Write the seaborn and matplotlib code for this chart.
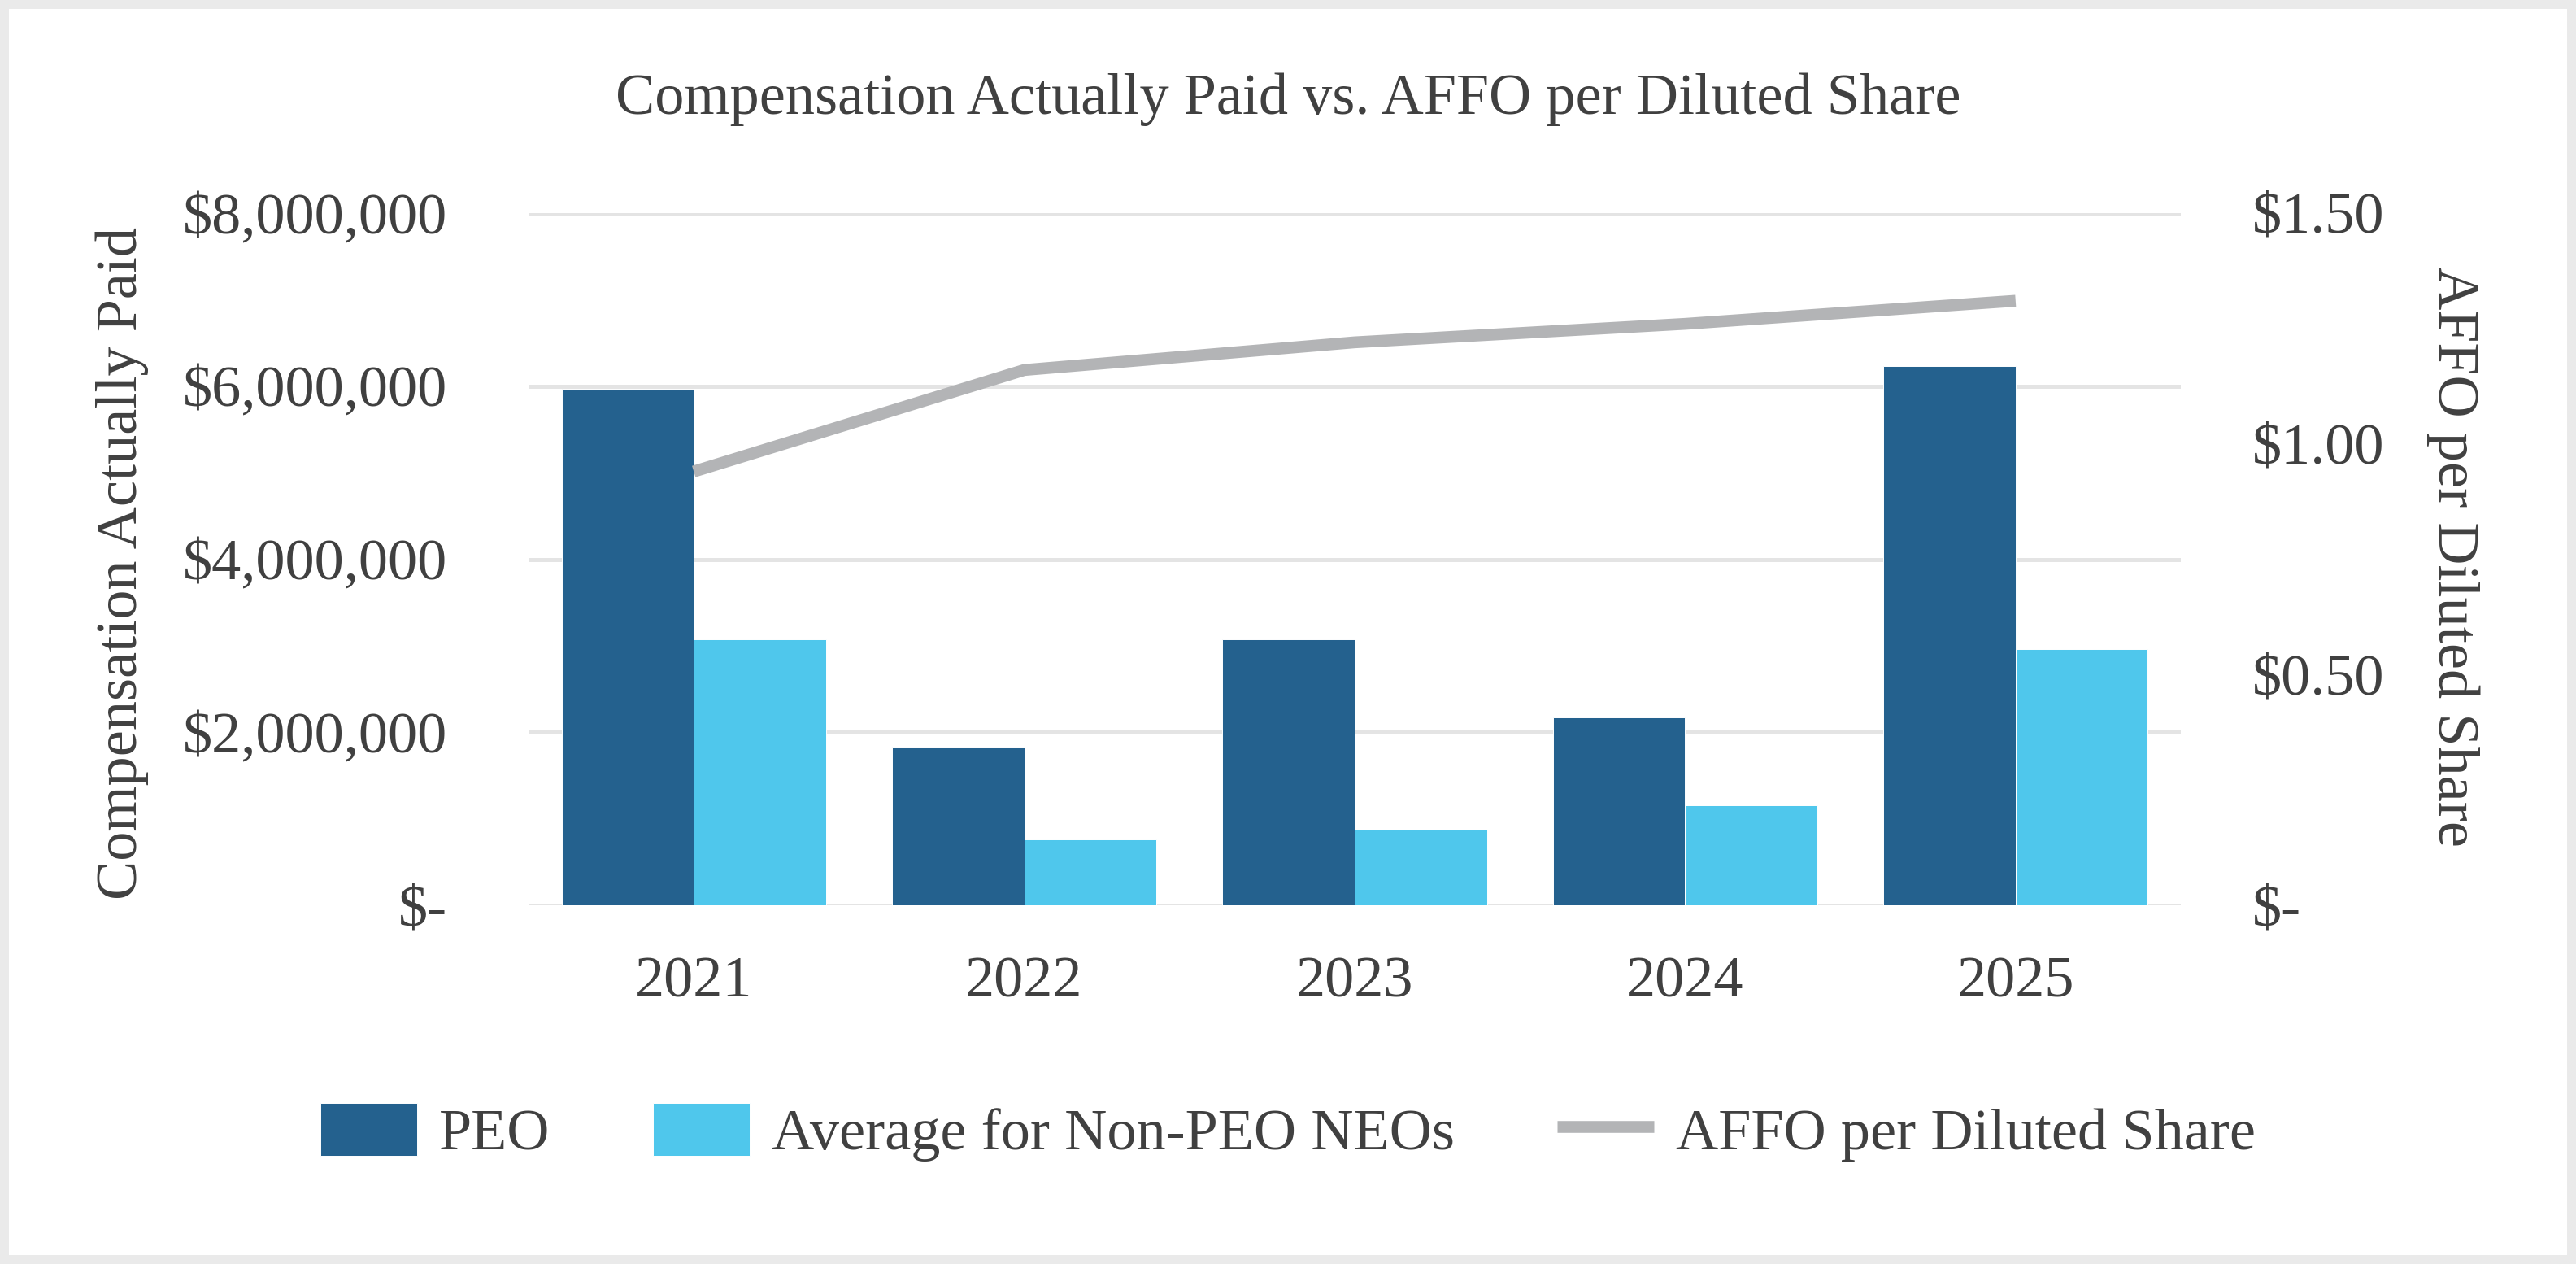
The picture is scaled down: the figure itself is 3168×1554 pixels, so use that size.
import numpy as np
import pandas as pd
import matplotlib
matplotlib.use('Agg')
import matplotlib.pyplot as plt
import seaborn as sns
from matplotlib.patches import Rectangle

# ---------------- data ----------------
years = ['2021', '2022', '2023', '2024', '2025']
peo = [5970000, 1830000, 3070000, 2170000, 6230000]
non_peo = [3070000, 760000, 870000, 1160000, 2960000]
affo = [0.94, 1.16, 1.22, 1.26, 1.31]
series_names = ['PEO', 'Average for Non-PEO NEOs']
line_name = 'AFFO per Diluted Share'
left_ticks = [0, 2000000, 4000000, 6000000, 8000000]
left_tick_labels = ['$-', '$2,000,000', '$4,000,000', '$6,000,000', '$8,000,000']
right_ticks = [0, 0.5, 1.0, 1.5]
right_tick_labels = ['$-', '$0.50', '$1.00', '$1.50']
title = 'Compensation Actually Paid vs. AFFO per Diluted Share'
left_label = 'Compensation Actually Paid'
right_label = 'AFFO per Diluted Share'

# ---------------- style ----------------
bar_colors = ['#24618E', '#4FC7EC']
line_color = '#B3B4B6'
text_color = '#404040'
grid_color = '#E4E4E4'
border_color = '#EAEAEA'
FS = 52

sns.set_style('white')
plt.rcParams['font.family'] = ['Liberation Serif', 'DejaVu Serif']

W, H = 3168, 1554
fig = plt.figure(figsize=(W / 100, H / 100), dpi=100)
fig.patch.set_facecolor(border_color)
fig.add_artist(Rectangle((11 / W, 11 / H), 1 - 22 / W, 1 - 22 / H,
                         transform=fig.transFigure, facecolor='white',
                         edgecolor='none', zorder=-5))

ax = fig.add_axes([650 / W, 1 - 1113 / H, (2682 - 650) / W, (1113 - 262) / H])
ax.set_facecolor('none')

df = pd.DataFrame({
    'Year': years * 2,
    'Value': peo + non_peo,
    'Series': [series_names[0]] * len(years) + [series_names[1]] * len(years),
})
sns.barplot(data=df, x='Year', y='Value', hue='Series', palette=bar_colors,
            saturation=1, width=0.8, ax=ax, edgecolor='white', linewidth=0.7,
            zorder=2)

ax.yaxis.grid(True, color=grid_color, lw=3.6, zorder=0)
ax.xaxis.grid(False)
ax.set_axisbelow(True)
ax.set_ylim(0, 8000000)
ax.set_yticks(left_ticks)
ax.set_yticklabels(left_tick_labels)
ax.set_xlabel('')
ax.set_ylabel('')
ax.tick_params(axis='y', length=0, pad=72, labelsize=FS, labelcolor=text_color)
ax.tick_params(axis='x', length=0, pad=45, labelsize=FS, labelcolor=text_color)
for s in ax.spines.values():
    s.set_visible(False)

ax2 = ax.twinx()
ax2.set_facecolor('none')
sns.lineplot(x=np.arange(len(years)), y=affo, ax=ax2, color=line_color, lw=10.5,
             label=line_name, solid_capstyle='butt')
ax2.set_ylim(0, 1.5)
ax2.set_yticks(right_ticks)
ax2.set_yticklabels(right_tick_labels)
ax2.set_ylabel('')
ax2.tick_params(axis='y', length=0, pad=63, labelsize=FS, labelcolor=text_color)
for s in ax2.spines.values():
    s.set_visible(False)
ax.set_xlim(-0.5, len(years) - 0.5)

h1, l1 = ax.get_legend_handles_labels()
h2, l2 = ax2.get_legend_handles_labels()
if ax.get_legend() is not None:
    ax.get_legend().remove()
if ax2.get_legend() is not None:
    ax2.get_legend().remove()

fig.legend(h1 + h2, l1 + l2, loc='center', bbox_to_anchor=(0.5, 1 - 1392 / H),
           ncol=3, frameon=False, fontsize=FS, handlelength=1.65,
           handleheight=1.0, handletextpad=0.37, columnspacing=1.75,
           labelcolor=text_color)

fig.text(0.5, 1 - 140 / H, title, ha='center', va='baseline',
         fontsize=FS, color=text_color)
fig.text(150 / W, 1 - 692 / H, left_label, rotation=90, ha='center',
         va='center', fontsize=FS, color=text_color)
fig.text(3017 / W, 1 - 685 / H, right_label, rotation=270, ha='center',
         va='center', fontsize=FS, color=text_color)

fig.savefig('out.png', dpi=100)
